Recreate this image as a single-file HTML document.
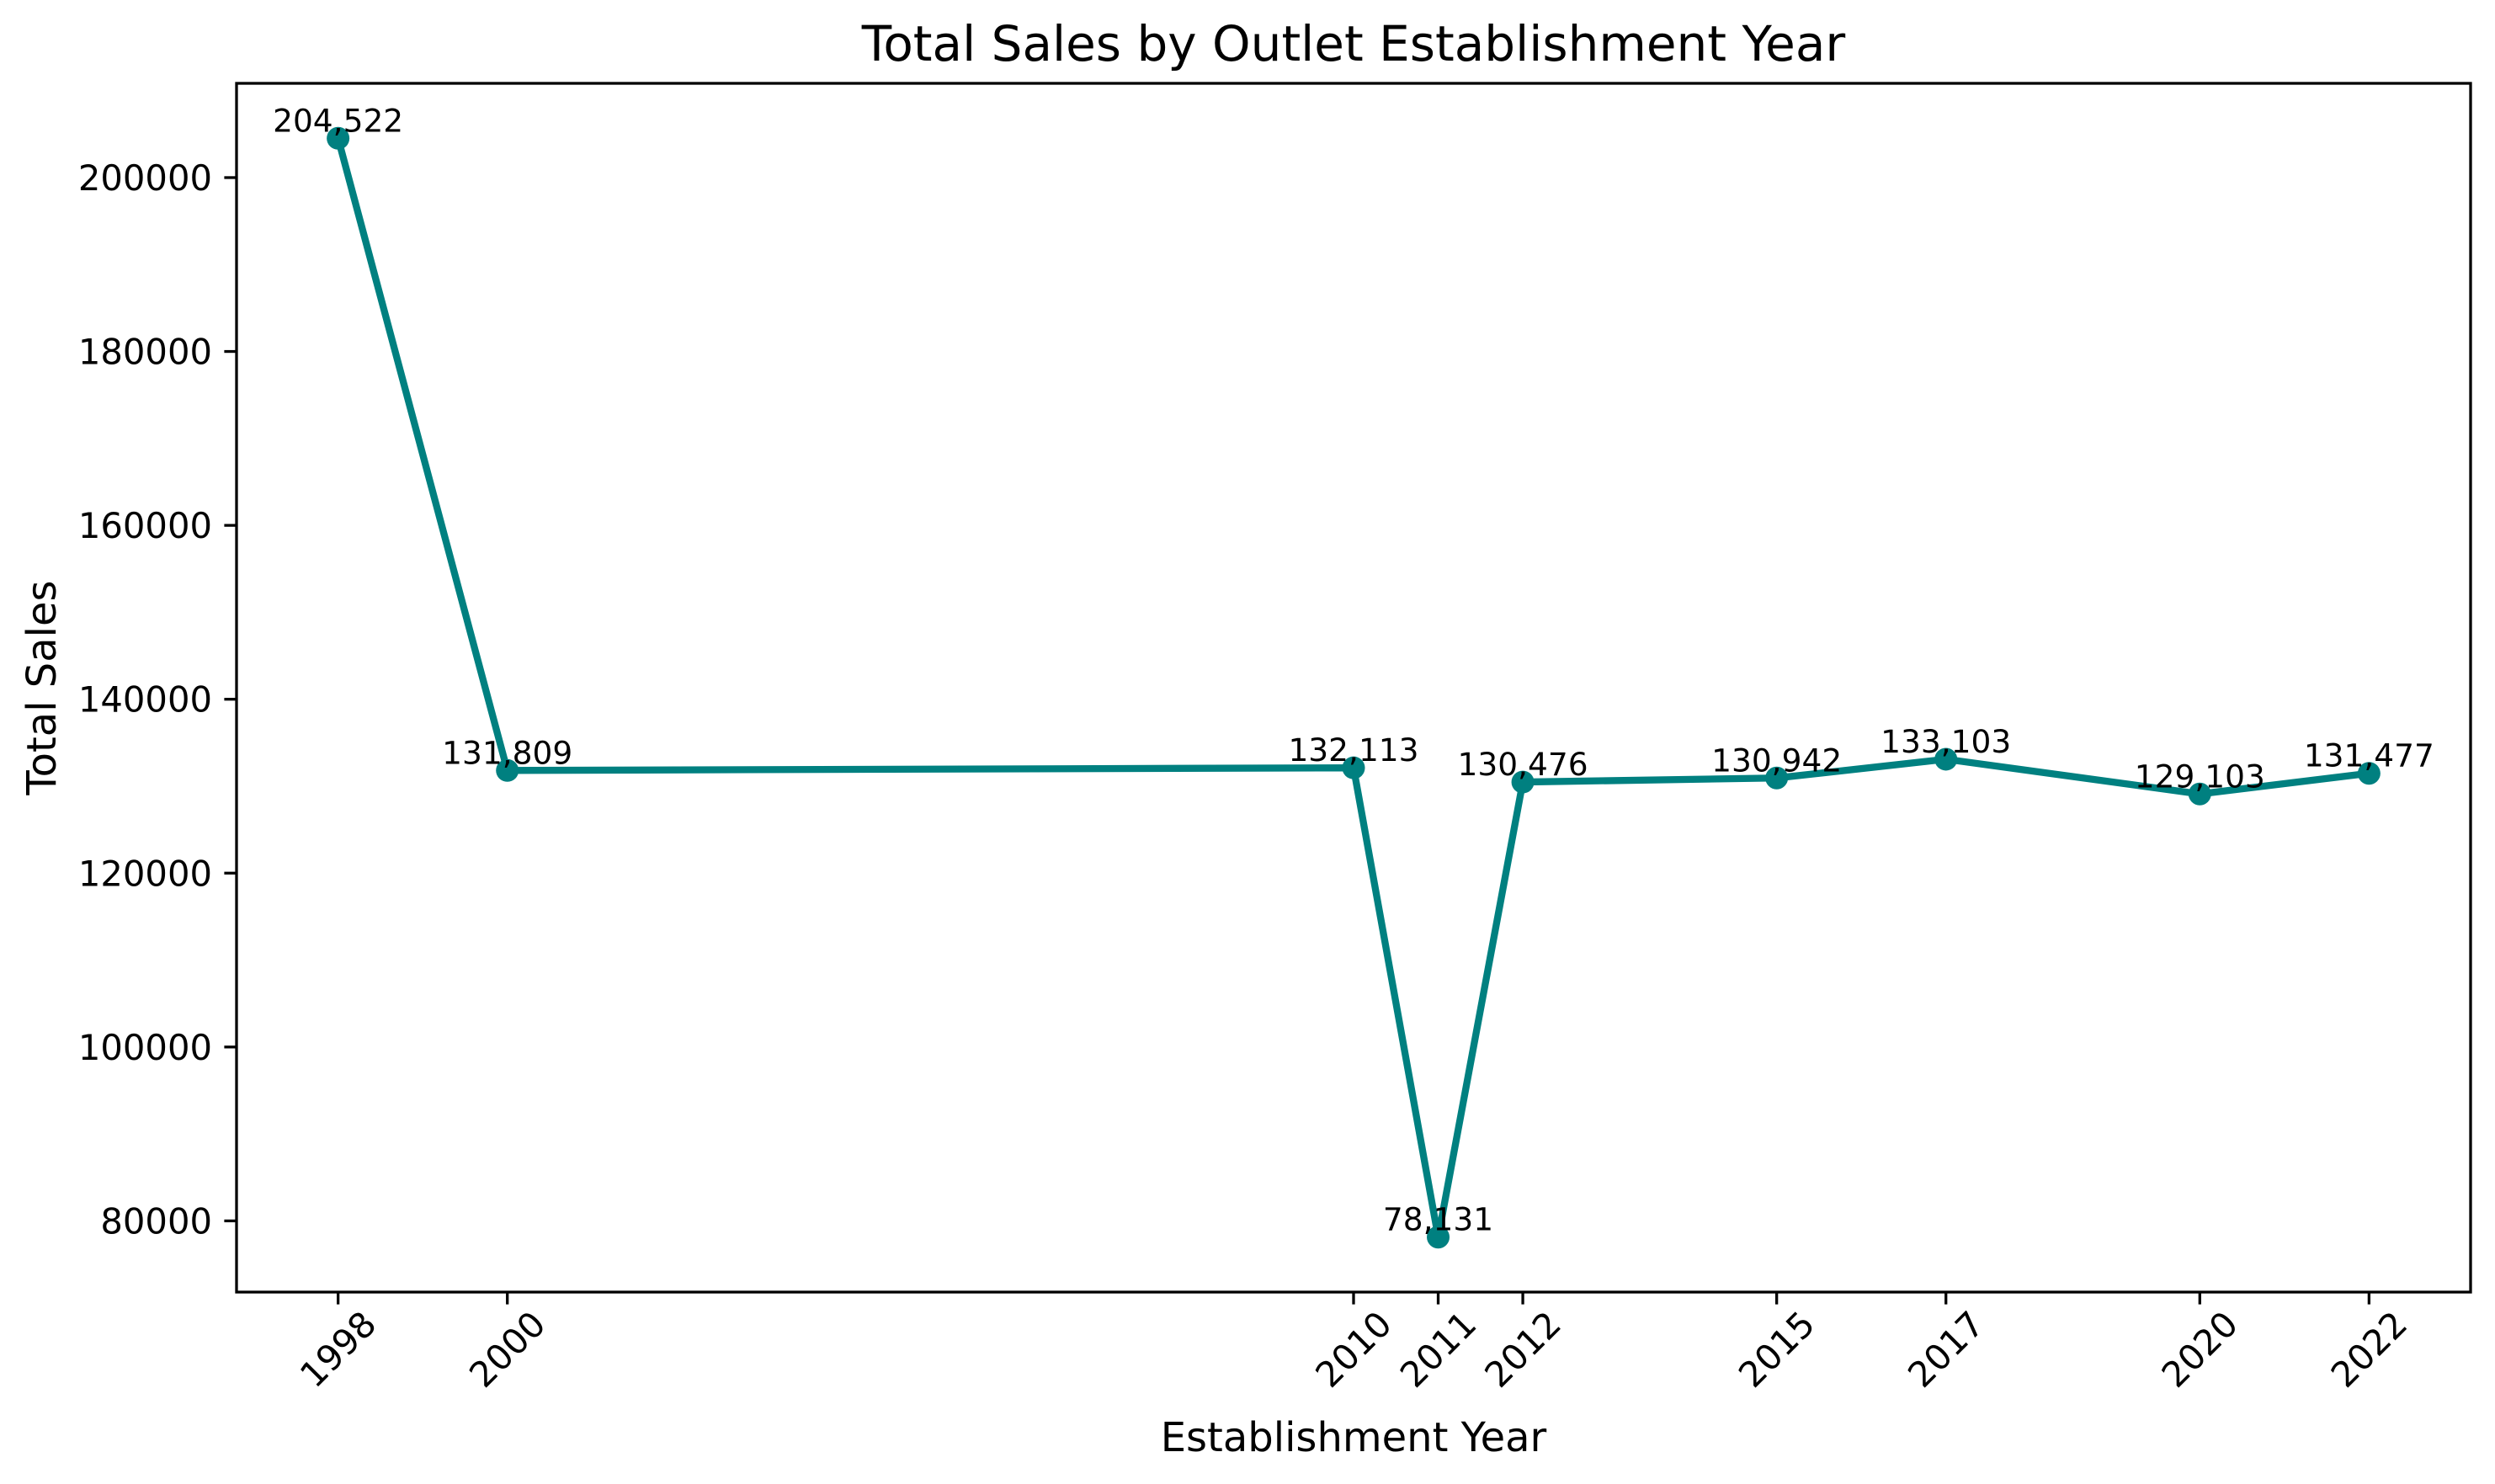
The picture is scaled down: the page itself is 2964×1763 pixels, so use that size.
<!DOCTYPE html>
<html><head><meta charset="utf-8"><style>
html,body{margin:0;padding:0;background:#fff;}
svg{display:block;font-family:"DejaVu Sans","Liberation Sans",sans-serif;}
</style></head><body>
<svg id="chart" width="2964" height="1763" viewBox="0 0 2964 1763" xmlns="http://www.w3.org/2000/svg">
<rect width="2964" height="1763" fill="#fff"/>
<text x="1608" y="72" font-size="58" text-anchor="middle">Total Sales by Outlet Establishment Year</text>
<text x="1608" y="1724" font-size="48" text-anchor="middle">Establishment Year</text>
<text x="0" y="0" font-size="48" text-anchor="middle" transform="translate(66,817) rotate(-90)">Total Sales</text>
<g id="yticks"></g>
<g id="xticks"></g>
<g id="series"></g>
<g id="labels"></g>
<rect x="281" y="99" width="2654" height="1436" fill="none" stroke="#000" stroke-width="3.3"/>
</svg>
<script>
const years = [1998, 2000, 2010, 2011, 2012, 2015, 2017, 2020, 2022];
const sales = [204522, 131809, 132113, 78131, 130476, 130942, 133103, 129103, 131477];
const salesLabels = ["204,522","131,809","132,113","78,131","130,476","130,942","133,103","129,103","131,477"];
const yTicks = [80000, 100000, 120000, 140000, 160000, 180000, 200000];

const L=281,R=2935,T=99,B=1535;
const xmin=1996.8,xmax=2023.2,ymin=71811,ymax=210842;
const sx=v=>L+(v-xmin)/(xmax-xmin)*(R-L);
const sy=v=>B-(v-ymin)/(ymax-ymin)*(B-T);
const NS="http://www.w3.org/2000/svg";
function mk(tag,attrs,parent,txt){const e=document.createElementNS(NS,tag);for(const k in attrs)e.setAttribute(k,attrs[k]);if(txt!==undefined)e.textContent=txt;parent.appendChild(e);return e;}

const yg=document.getElementById('yticks');
yTicks.forEach(v=>{
  const y=sy(v);
  const t=mk('line',{x1:L-14.6,x2:L,y1:y,y2:y,stroke:'#000','stroke-width':3.3},yg);
  
  
  const l=mk('text',{x:L-29,y:y+15,'font-size':41.7,'text-anchor':'end'},yg,String(v));
  
  
});

const xg=document.getElementById('xticks');
years.forEach(v=>{
  const x=sx(v);
  const t=mk('line',{x1:x,x2:x,y1:B,y2:B+14.6,stroke:'#000','stroke-width':3.3},xg);
  
  
  const l=mk('text',{x:0,y:0,'font-size':41.7,'text-anchor':'middle','dominant-baseline':'central',transform:`translate(${x},${B+68}) rotate(-45)`},xg,String(v));
  
  
});

const sg=document.getElementById('series');
const pts=years.map((v,i)=>sx(v)+','+sy(sales[i])).join(' ');
const line=mk('polyline',{points:pts,fill:'none',stroke:'#008080','stroke-width':8.3,'stroke-linejoin':'round','stroke-linecap':'square'},sg);


years.forEach((v,i)=>{
  const c=mk('circle',{cx:sx(v),cy:sy(sales[i]),r:13.5,fill:'#008080'},sg);
  
  
});

const lg=document.getElementById('labels');
years.forEach((v,i)=>{
  const t=mk('text',{x:sx(v),y:sy(sales[i])-8,'font-size':37.5,'text-anchor':'middle'},lg,salesLabels[i]);
  
  
});
</script>
</body></html>
